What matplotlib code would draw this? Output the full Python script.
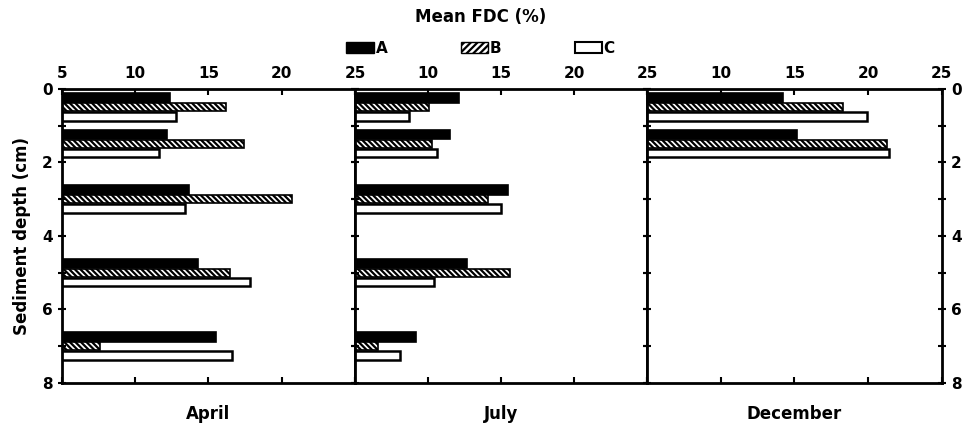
import matplotlib
matplotlib.use('Agg')
import matplotlib.pyplot as plt
import numpy as np
from matplotlib.patches import Patch

depths = [0.5, 1.5, 3, 5, 7]
months = ['April', 'July', 'December']
# mean FDC (%) per month, series A/B/C
april_A = [12.4, 12.2, 13.7, 14.3, 15.5]
april_B = [16.2, 17.4, 20.7, 16.5, 7.6]
april_C = [12.8, 11.6, 13.4, 17.8, 16.6]
july_A = [12.1, 11.5, 15.5, 12.7, 9.2]
july_B = [10.1, 10.3, 14.1, 15.6, 6.6]
july_C = [8.7, 10.6, 15.0, 10.4, 8.1]
dec_depths = [0.5, 1.5]
dec_A = [14.2, 15.2]
dec_B = [18.3, 21.3]
dec_C = [19.9, 21.4]

plt.rcParams['hatch.linewidth'] = 1.6
plt.rcParams['font.family'] = 'DejaVu Sans'
plt.rcParams['font.weight'] = 'bold'

fig = plt.figure(figsize=(9.67, 4.3), dpi=100)
lefts = [0.0641, 0.3671, 0.669]
widths = [0.303, 0.302, 0.305]
data = [(depths, april_A, april_B, april_C),
        (depths, july_A, july_B, july_C),
        (dec_depths, dec_A, dec_B, dec_C)]
h = 0.25
axes = []
for i in range(3):
    ax = fig.add_axes([lefts[i], 0.1093, widths[i], 0.684])
    d, a, b, c = data[i]
    d = np.array(d)
    ax.barh(d - h, a, height=h, color='black', edgecolor='black', linewidth=1.2)
    ax.barh(d, b, height=h * 0.9, color='white', edgecolor='black', hatch='\\\\\\\\\\\\', linewidth=1.2)
    ax.barh(d + h, c, height=h * 0.9, color='white', edgecolor='black', linewidth=1.8)
    ax.set_xlim(5, 25)
    ax.set_ylim(8, 0)
    ax.xaxis.tick_top()
    ax.xaxis.set_ticks_position('both')
    ax.set_xticks([5, 10, 15, 20, 25])
    if i == 0:
        ax.set_xticklabels(['5', '10', '15', '20', '25'])
    else:
        ax.set_xticklabels(['', '10', '15', '20', '25'])
    ax.tick_params(axis='x', direction='in', length=4, width=1.5, labelsize=11, pad=6)
    ax.set_yticks([0, 2, 4, 6, 8])
    ax.set_yticks([1, 3, 5, 7], minor=True)
    ax.yaxis.set_ticks_position('both')
    ax.tick_params(axis='y', which='both', direction='inout', length=6, width=1.5, labelsize=11)
    if i == 0:
        ax.tick_params(axis='y', labelleft=True, labelright=False)
    elif i == 2:
        ax.tick_params(axis='y', labelleft=False, labelright=True)
    else:
        ax.tick_params(axis='y', labelleft=False, labelright=False)
    for s in ax.spines.values():
        s.set_linewidth(2)
    ax.xaxis.set_label_position('bottom')
    ax.set_xlabel(months[i], fontsize=12, fontweight='bold', labelpad=16)
    axes.append(ax)

axes[0].set_ylabel('Sediment depth (cm)', fontsize=12, fontweight='bold', labelpad=8)
fig.text(0.497, 0.96, 'Mean FDC (%)', ha='center', va='center', fontsize=12, fontweight='bold')

handles = [Patch(facecolor='black', edgecolor='black', label='A'),
           Patch(facecolor='white', edgecolor='black', hatch='/////', label='B'),
           Patch(facecolor='white', edgecolor='black', linewidth=1.5, label='C')]
fig.legend(handles=handles, ncol=3, loc='center', bbox_to_anchor=(0.497, 0.888),
           frameon=False, fontsize=11, handlelength=1.8, handleheight=0.8,
           handletextpad=0.1, columnspacing=4.8)

plt.savefig('out.png', dpi=100)
plt.close()
